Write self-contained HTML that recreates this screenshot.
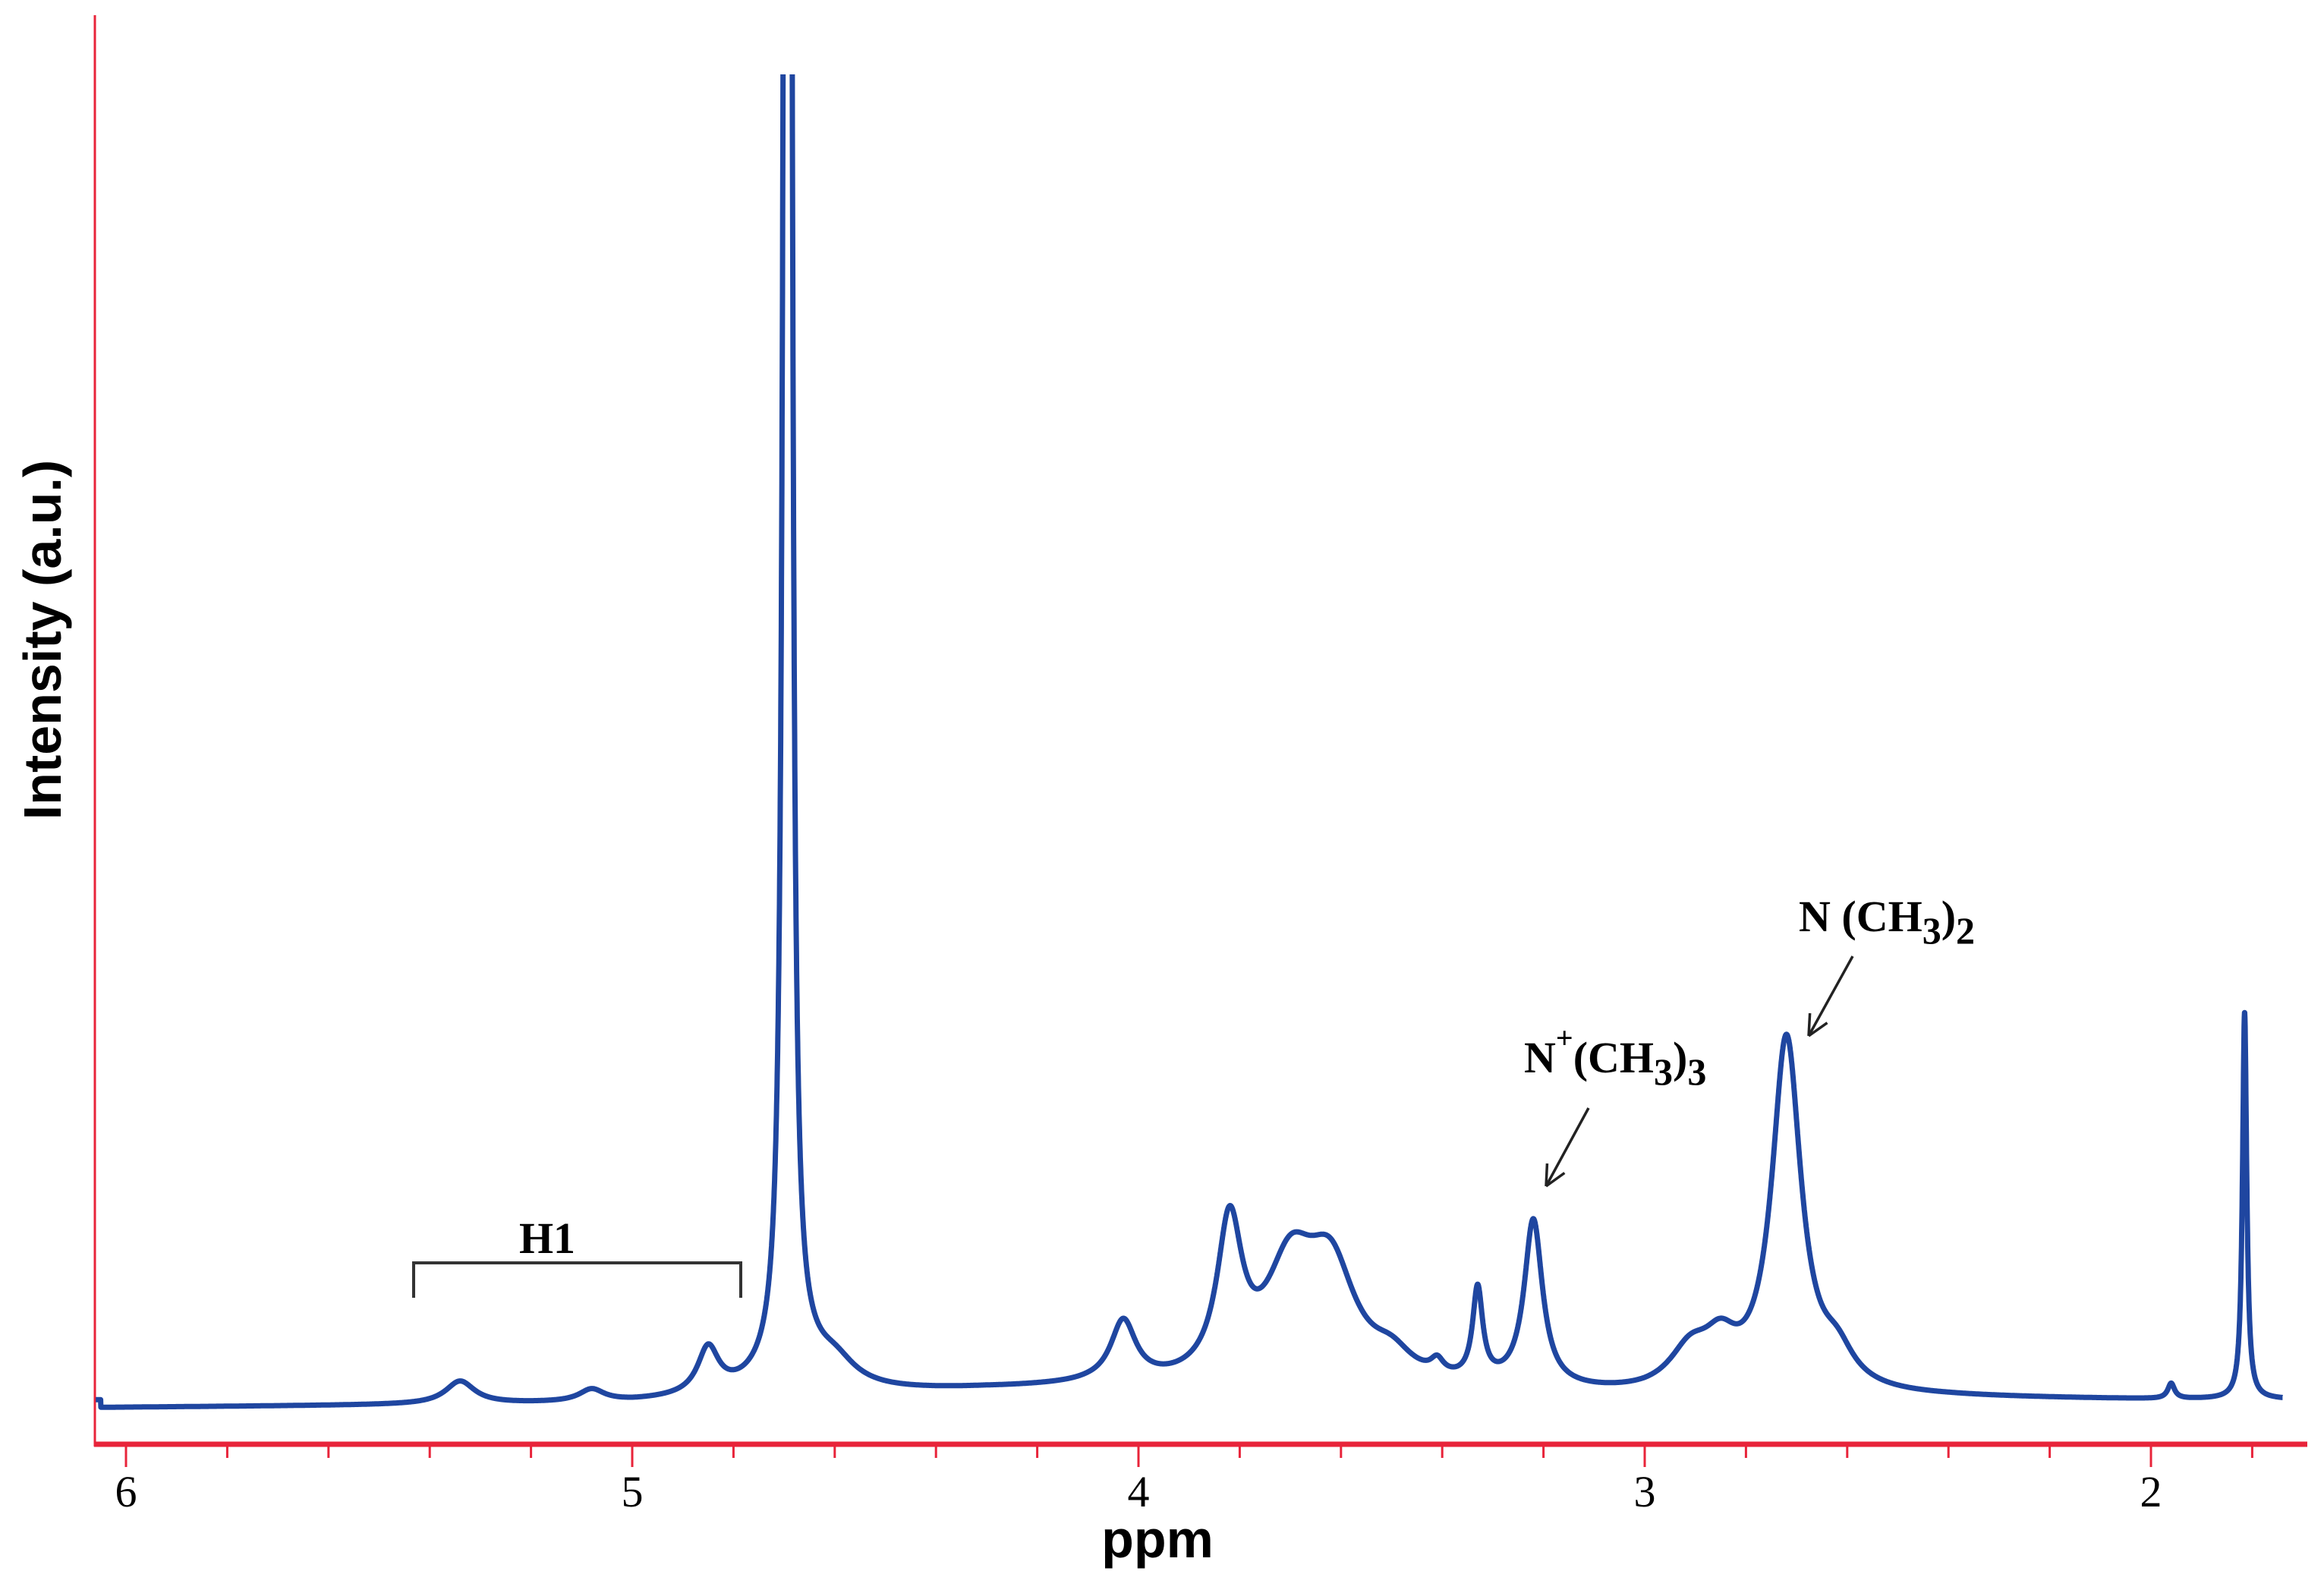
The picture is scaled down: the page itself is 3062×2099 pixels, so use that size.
<!DOCTYPE html>
<html><head><meta charset="utf-8"><style>
html,body{margin:0;padding:0;background:#fff;}
svg{display:block;}
</style></head><body>
<svg id="chart" width="3062" height="2099" viewBox="0 0 3062 2099" xmlns="http://www.w3.org/2000/svg">
<defs><clipPath id="plotclip"><rect x="126" y="98" width="2914" height="1800"/></clipPath></defs>
<g id="axes"></g>
<g id="series" clip-path="url(#plotclip)"></g>
<g id="annot"></g>
</svg>
<script>
const tickLabels = ["6","5","4","3","2"];
const tickValues = [6,5,4,3,2];
const peakCenters = [5.34,5.08,4.85,4.693,4.68,4.60,4.03,3.82,3.70,3.62,3.50,3.41,3.33,3.22,2.91,2.85,2.72,2.62,1.96,1.815];
const peakHeights = [30,16,60,10600,40,30,80,200,140,140,30,18,120,220,50,50,465,40,20,510];
const peakWidths  = [0.035,0.03,0.025,0.004,0.07,0.05,0.03,0.03,0.06,0.06,0.05,0.015,0.012,0.022,0.05,0.04,0.035,0.04,0.008,0.005];
const baselinePpm = [6.05,5.0,4.3,4.1,3.3,3.0,2.4,2.0,1.7];
const baselineVal = [0,5,22,25,18,12,12,10,10];

const NS="http://www.w3.org/2000/svg";
const X0=166, PX_PER_PPM=667, Y0=1855;
function xs(p){return X0+(6-p)*PX_PER_PPM;}
function ys(v){return Y0-v;}
function mk(tag,attrs,parent){const e=document.createElementNS(NS,tag);for(const k in attrs)e.setAttribute(k,attrs[k]);parent.appendChild(e);return e;}
function base(p){
  for(let i=0;i<baselinePpm.length-1;i++){
    const a=baselinePpm[i],b=baselinePpm[i+1];
    if(p<=a&&p>=b){const t=(a-p)/(a-b);return baselineVal[i]+t*(baselineVal[i+1]-baselineVal[i]);}
  }
  return baselineVal[baselineVal.length-1];
}
function spec(p){
  let s=base(p);
  for(let i=0;i<peakCenters.length;i++){const d=p-peakCenters[i],w=peakWidths[i];s+=peakHeights[i]*w*w/(d*d+w*w);}
  return s;
}
const axes=document.getElementById('axes');
const red="#e8243a";
let e=mk('line',{x1:125,y1:20,x2:125,y2:1906,stroke:red,'stroke-width':3},axes);


e=mk('line',{x1:124,y1:1903,x2:3040,y2:1903,stroke:red,'stroke-width':7},axes);


for(let k=0;k<=22;k++){
  const p=6.2-k*0.2; const x=xs(p); if(x<126||x>3040)continue;
  const major=Math.abs(p-Math.round(p))<0.01;
  e=mk('line',{x1:x,y1:1903,x2:x,y2:major?1933:1921,stroke:red,'stroke-width':3},axes);
  
  
}
tickValues.forEach((v,i)=>{
  const t=mk('text',{x:xs(v),y:1985,'text-anchor':'middle','font-family':'"Liberation Serif",serif','font-size':58},axes);
  t.textContent=tickLabels[i];
  
  
});
let t=mk('text',{x:1525,y:2052,'text-anchor':'middle','font-family':'"Liberation Sans",sans-serif','font-weight':'bold','font-size':70},axes);
t.textContent='ppm';


t=mk('text',{x:0,y:0,transform:'translate(80,843) rotate(-90)','text-anchor':'middle','font-family':'"Liberation Sans",sans-serif','font-weight':'bold','font-size':70},axes);
t.textContent='Intensity (a.u.)';



const ser=document.getElementById('series');
let d='';
for(let p=6.06;p>=1.74;p-=0.0004){const x=xs(p);if(x<126||x>3040)continue;d+=(d?'L':'M')+x.toFixed(1)+' '+ys(spec(p)).toFixed(1);}
e=mk('path',{d:d,fill:'none',stroke:'#1f46a0','stroke-width':7,'stroke-linejoin':'round'},ser);



const an=document.getElementById('annot');
e=mk('path',{d:'M545 1710 L545 1664 L976 1664 L976 1710',fill:'none',stroke:'#333','stroke-width':4},an);


t=mk('text',{x:721,y:1651,'text-anchor':'middle','font-family':'"Liberation Serif",serif','font-weight':'bold','font-size':58},an);
t.textContent='H1';


function arrow(x1,y1,x2,y2,name){
  const g=mk('g',{},an);
  
  
  mk('line',{x1:x1,y1:y1,x2:x2,y2:y2,stroke:'#222','stroke-width':3.5},g);
  const a=Math.atan2(y2-y1,x2-x1),L=30;
  [0.45,-0.45].forEach(o=>mk('line',{x1:x2,y1:y2,x2:x2-L*Math.cos(a+o),y2:y2-L*Math.sin(a+o),stroke:'#222','stroke-width':3.5},g));
}
arrow(2093,1460,2037,1563,'arrow-nme3');
arrow(2441,1260,2383,1365,'arrow-nme2');
t=mk('text',{x:2008,y:1413,'font-family':'"Liberation Serif",serif','font-weight':'bold','font-size':58},an);
t.innerHTML='N<tspan dy="-32" font-size="40">+</tspan><tspan dy="32">(CH</tspan><tspan dy="16" font-size="50">3</tspan><tspan dy="-16">)</tspan><tspan dy="16" font-size="50">3</tspan>';


t=mk('text',{x:2370,y:1227,'font-family':'"Liberation Serif",serif','font-weight':'bold','font-size':58},an);
t.innerHTML='N (CH<tspan dy="16" font-size="50">3</tspan><tspan dy="-16">)</tspan><tspan dy="16" font-size="50">2</tspan>';


</script>
</body></html>
